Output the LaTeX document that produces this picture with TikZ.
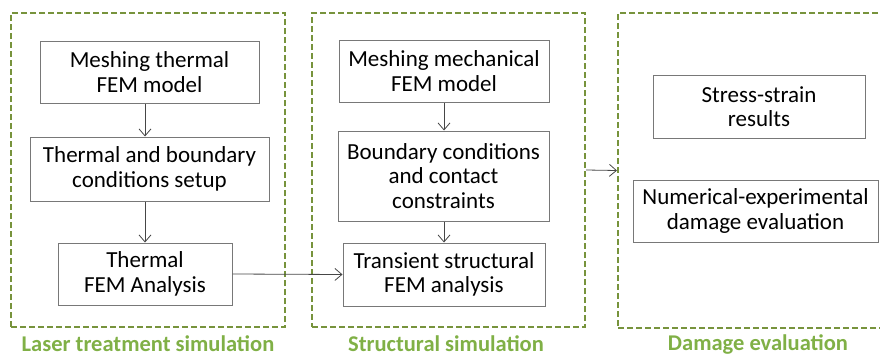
\documentclass[tikz,border=0pt]{standalone}
\usepackage{fontspec}
\setmainfont{Carlito}
\usepackage{tikz}
\usepackage{xcolor}
\usetikzlibrary{arrows.meta, positioning}

\definecolor{dashgreen}{RGB}{119,147,60}
\definecolor{labelgreen}{RGB}{128,176,70}
\definecolor{boxgray}{RGB}{120,120,120}
\definecolor{arrowgray}{RGB}{70,70,70}

\begin{document}
\begin{tikzpicture}[x=1pt, y=-1pt,
    stagebox/.style={draw=boxgray, line width=1pt, fill=white, align=center,
        inner sep=0pt, font=\fontsize{23}{24.5}\selectfont},
    panel/.style={draw=dashgreen, line width=2pt, dash pattern=on 6pt off 3pt,
        inner sep=0pt},
    panellabel/.style={text=labelgreen, font=\fontsize{22.5}{24}\selectfont\bfseries},
    flow/.style={draw=arrowgray, line width=0.8pt,
        -{Straight Barb[length=7pt, width=12pt]}}]
    \clip (0,0) rectangle (880,356);

    % Dashed panels
    \node (p1) at (148,170) [panel, minimum width=274pt, minimum height=314pt] {};
    \node (p2) at (448.5,170) [panel, minimum width=273pt, minimum height=314pt] {};
    \node (p3) at (755,170.5) [panel, minimum width=274pt, minimum height=315pt] {};
    \node (l1) at (148,344) [panellabel] {Laser treatment simulation};
    \node (l2) at (446,344) [panellabel] {Structural simulation};
    \node (l3) at (758,344) [panellabel] {Damage evaluation};

    % Laser treatment simulation
    \node (m1) at (149.5,72) [stagebox, minimum width=219pt, minimum height=62pt] {Meshing thermal\\FEM model};
    \node (m2) at (149.5,169) [stagebox, minimum width=239pt, minimum height=64pt] {Thermal and boundary\\conditions setup};
    \node (m3) at (145,274) [stagebox, minimum width=174pt, minimum height=62pt] {Thermal\\FEM Analysis};

    % Structural simulation
    \node (s1) at (444,71) [stagebox, minimum width=210pt, minimum height=62pt] {Meshing mechanical\\FEM model};
    \node (s2) at (443.5,176) [stagebox, minimum width=211pt, minimum height=90pt] {Boundary conditions\\and contact\\constraints};
    \node (s3) at (444,274.5) [stagebox, minimum width=202pt, minimum height=63pt] {Transient structural\\FEM analysis};

    % Damage evaluation
    \node (r1) at (759,106.5) [stagebox, minimum width=212pt, minimum height=63pt] {Stress-strain\\results};
    \node (r2) at (755.5,211) [stagebox, minimum width=245pt, minimum height=62pt] {Numerical-experimental\\damage evaluation};

    % Connectors
    \draw [flow] (m1.south -| m3) -- (m2.north -| m3);
    \draw [flow] (m2.south -| m3) -- (m3.north);
    \draw [flow] (s1.south) -- (s2.north -| s1);
    \draw [flow] (s2.south -| s1) -- (s3.north);
    \draw [flow] (m3.east) -- (s3.west);
    \draw [flow] (p2.east) -- (p3.west);
\end{tikzpicture}
\end{document}
